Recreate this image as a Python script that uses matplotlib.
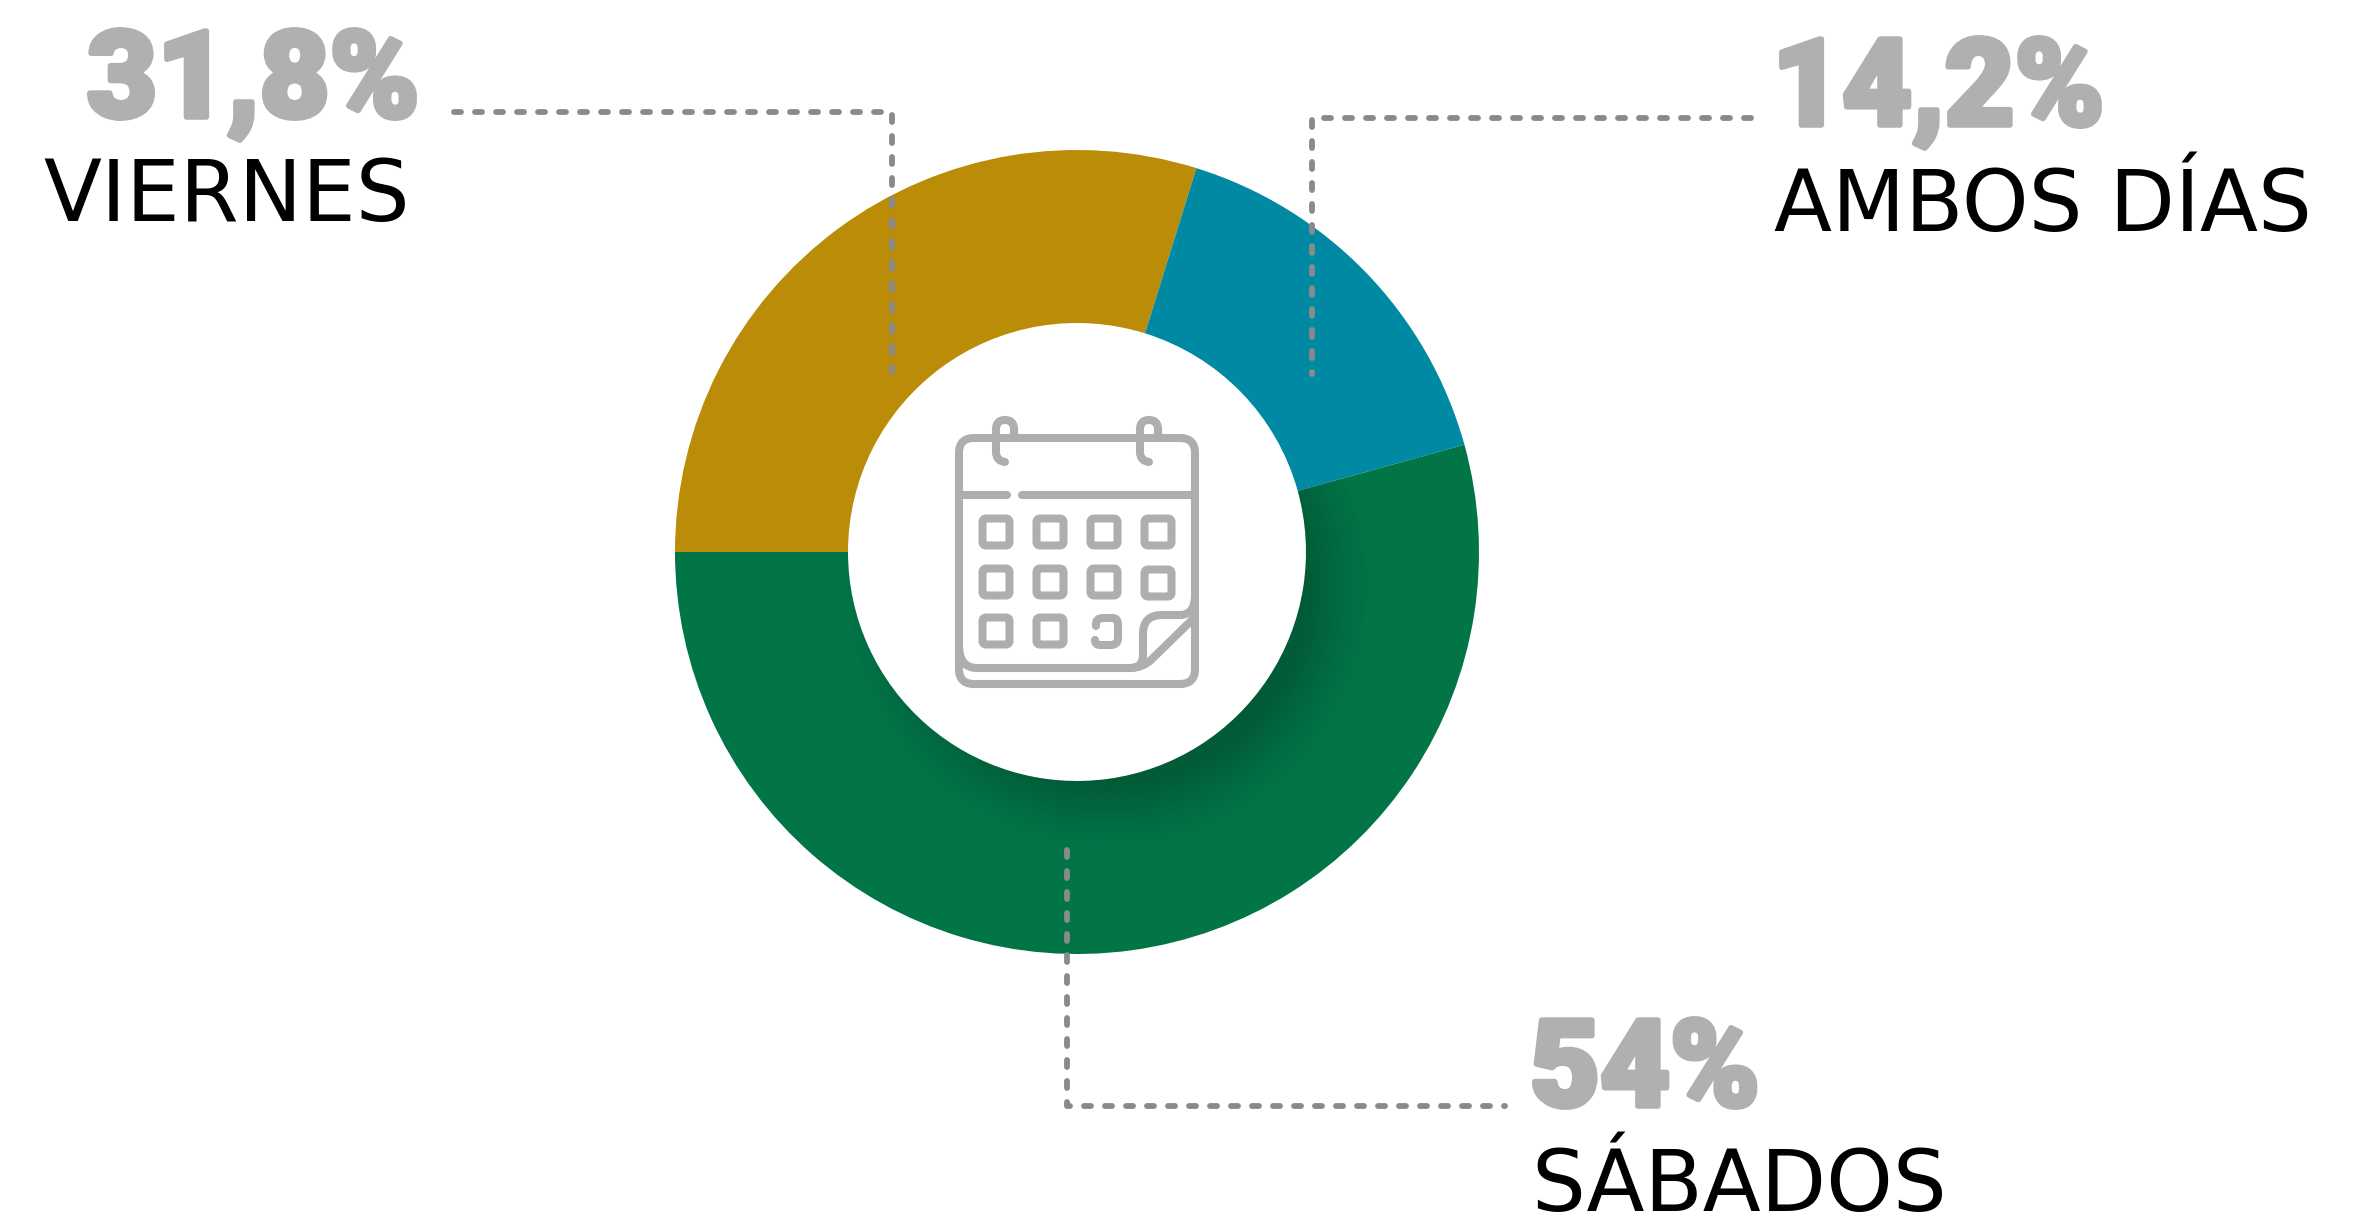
import matplotlib
matplotlib.use('Agg')
import matplotlib.pyplot as plt
import matplotlib.patheffects as pe
from matplotlib.patches import FancyBboxPatch, PathPatch
from matplotlib.path import Path
import numpy as np

W, H = 2367, 1221

# === Data ===
categories = ['VIERNES', 'AMBOS DÍAS', 'SÁBADOS']
percent_labels = ['31,8%', '14,2%', '54%']
arc_shares = [29.8, 15.9, 54.3]  # shares as actually drawn on the ring

colors = ['#bb8c07', '#0089a3', '#027547']
grey_num = '#b0b0b0'
grey_icon = '#aeaeae'
grey_line = '#8a8a8a'


def Y(py):
    return H - py


fig = plt.figure(figsize=(W / 100, H / 100), dpi=100, facecolor='white')
ax = fig.add_axes([0, 0, 1, 1])

cx, cy, r_out, r_in = 1077, 552, 402, 229

wedges, _ = ax.pie(arc_shares, colors=colors, startangle=180, counterclock=False,
                   center=(cx, Y(cy)), radius=r_out,
                   wedgeprops={'width': r_out - r_in, 'linewidth': 0})
ax.set_xlim(0, W)
ax.set_ylim(0, H)
ax.set_aspect('equal')
ax.axis('off')

# soft shadow under the hole, only on the green part
xx, yy = np.meshgrid(np.arange(cx - 420, cx + 420), np.arange(Y(cy) - 420, Y(cy) + 420))
dist = np.hypot(xx - (cx + 30), yy - (Y(cy) - 34))
fade = np.clip((r_in + 40 - dist) / 70, 0, 1) ** 1.2
shade = np.zeros(dist.shape + (4,))
shade[..., 3] = 0.22 * fade
im = ax.imshow(shade, extent=(cx - 420, cx + 420, Y(cy) - 420, Y(cy) + 420),
               origin='lower', zorder=2, interpolation='bilinear')
im.set_clip_path(wedges[2])
ax.set_xlim(0, W)
ax.set_ylim(0, H)

# === Leader lines ===
leaders = [
    ([454, 892, 892], [112, 112, 372]),
    ([1751, 1312, 1312], [118, 118, 374]),
    ([1067, 1067, 1505], [850, 1106, 1106]),
]
for lx, ly in leaders:
    ax.plot(lx, [Y(v) for v in ly], color=grey_line, lw=4.2, zorder=4,
            dashes=(1.2, 2.4), dash_capstyle='round', dash_joinstyle='round')

# === Labels ===
num_pos = [(87, 117), (1772, 125), (1530, 1106)]
cat_pos = [(43, 221), (1774, 231), (1531, 1211)]
for label, pos in zip(percent_labels, num_pos):
    ax.text(pos[0], Y(pos[1]), label, fontsize=87, family='Roboto', weight=900,
            color=grey_num, ha='left', va='baseline', zorder=5,
            path_effects=[pe.withStroke(linewidth=4, foreground=grey_num)])
for label, pos in zip(categories, cat_pos):
    ax.text(pos[0], Y(pos[1]), label, fontsize=61, family='DejaVu Sans',
            color='black', ha='left', va='baseline', zorder=5)


# === Calendar icon ===
def stroke(points, codes=None):
    verts = [(x, Y(y)) for x, y in points]
    if codes is None:
        codes = [Path.MOVETO] + [Path.LINETO] * (len(verts) - 1)
    ax.add_patch(PathPatch(Path(verts, codes), fill=False, edgecolor=grey_icon, lw=5.8,
                           capstyle='round', joinstyle='round', zorder=5))


def round_box(x0, y0, x1, y1, r):
    ax.add_patch(FancyBboxPatch((x0 + r, Y(y1) + r), x1 - x0 - 2 * r, y1 - y0 - 2 * r,
                                boxstyle=f'round,pad={r},rounding_size={r}', fill=False,
                                edgecolor=grey_icon, lw=5.8, zorder=5))


C3 = Path.CURVE3
L = Path.LINETO
M = Path.MOVETO

round_box(959, 438, 1195, 684, 15)
stroke([(959, 495), (1007, 495)])
stroke([(1022, 495), (1195, 495)])

col_x = [996, 1050, 1104, 1158]
row_y = [532, 582, 631]
half = 13.5
for j, y in enumerate(row_y):
    for i, x in enumerate(col_x):
        if i >= 2 and j == 2:
            continue
        dy = 1 if (i == 3 and j == 1) else 0
        round_box(x - half, y + dy - half, x + half, y + dy + half, 4)
# the open square on the last row
stroke([(1096, 626), (1095, 618), (1103, 618), (1113, 618), (1118, 618), (1118, 625),
        (1118, 638), (1118, 645), (1111, 645), (1100, 645), (1095, 645), (1095, 640)],
       [M, C3, C3, L, C3, C3, L, C3, C3, L, C3, C3])

for off in [0, 144]:
    stroke([(1014 + off, 438), (1014 + off, 429), (1014 + off, 420), (1005 + off, 420),
            (996 + off, 420), (996 + off, 429), (996 + off, 452), (996 + off, 461), (1005 + off, 462)],
           [M, L, C3, C3, C3, C3, L, C3, C3])

# turned page corner
stroke([(959, 645), (959, 668), (977, 668), (1130, 668), (1143, 668), (1152, 659), (1195, 617)],
       [M, C3, C3, L, C3, C3, L])
stroke([(1195, 595), (1195, 615), (1180, 615), (1162, 615), (1143, 615), (1143, 634),
        (1143, 655), (1143, 668), (1130, 668)],
       [M, C3, C3, L, C3, C3, L, C3, C3])

fig.savefig('out.png', dpi=100, facecolor='white')
